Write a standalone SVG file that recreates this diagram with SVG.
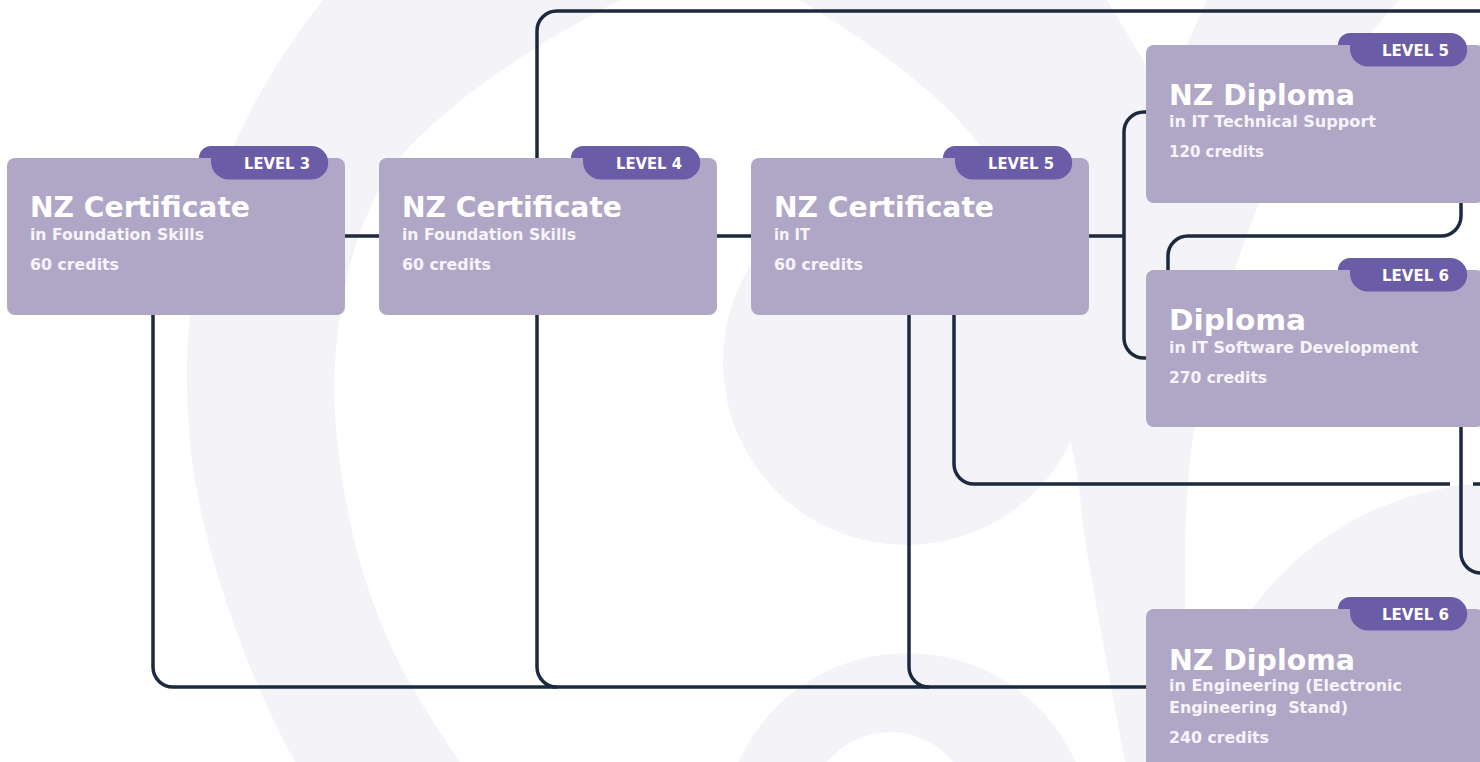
<svg xmlns="http://www.w3.org/2000/svg" width="1480" height="762" viewBox="0 0 1480 762">
  <style>
    .bg { fill: #f3f3f8; }
    .card { fill: #b0a7c7; }
    .tab { fill: #6b5ca8; }
    .conn { fill: none; stroke: #1b2a3e; stroke-width: 3.5; stroke-linecap: butt; }
    .lvl { font-family: "DejaVu Sans", "Liberation Sans", sans-serif; font-weight: 700; font-size: 16px; fill: #ffffff; text-anchor: end; }
    .title { font-family: "DejaVu Sans", "Liberation Sans", sans-serif; font-weight: 700; font-size: 28px; fill: #ffffff; }
    .sub { font-family: "DejaVu Sans", "Liberation Sans", sans-serif; font-weight: 700; font-size: 15px; fill: #f6f4fa; }
    .cred { font-family: "DejaVu Sans", "Liberation Sans", sans-serif; font-weight: 700; font-size: 15.5px; fill: #f6f4fa; }
  </style>
  <defs>
    <path id="tabShape" d="M192,0 A12 12 0 0 1 204,-12 H304.5 A16.75 16.75 0 0 1 304.5,21.5 H222 A18 18 0 0 1 204,3.5 V0 Z"/>
  </defs>

  <rect x="0" y="0" width="1480" height="762" fill="#ffffff"/>

  <g id="background">
    <path class="bg" d="M323,0 L621,0 C540,40 450,100 398,159 C370,200 350,250 343,300 C335,340 333,380 335,417 C345,540 375,620 410,683 C425,710 445,740 460,762 L295,762 C250,680 205,560 192,460 C185,400 186,340 192,300 C205,180 260,80 323,0 Z"/>
    <path class="bg" d="M799,0 C850,30 950,95 989,159 C1010,190 1025,220 1040,260 L1100,320 L1160,100 L1143,60 L1107,0 Z"/>
    <circle class="bg" cx="906" cy="362" r="183"/>
    <path class="bg" d="M1207,0 L1400,0 C1380,20 1340,70 1300,120 C1270,165 1240,250 1215,330 C1195,400 1188,460 1185,540 L1185,640 C1187,700 1190,740 1192,762 L1125,762 C1110,680 1095,600 1085,540 C1080,500 1079,475 1070,440 L1040,300 L1143,100 L1180,60 Z"/>
    <path class="bg" fill-rule="evenodd" d="M722,838 A185 185 0 1 1 1092,838 A185 185 0 1 1 722,838 Z M809,813 A81 81 0 1 0 971,813 A81 81 0 1 0 809,813 Z"/>
    <circle class="bg" cx="1500" cy="790" r="307"/>
  </g>

  <g id="connectors">
    <path class="conn" d="M345,236 H379"/>
    <path class="conn" d="M717,236 H751"/>
    <path class="conn" d="M1089,236 H1124"/>
    <path class="conn" d="M1146,112 H1144 A20 20 0 0 0 1124,132 V338 A20 20 0 0 0 1144,358 H1146"/>
    <path class="conn" d="M1461,203 V216 A20 20 0 0 1 1441,236 H1188 A20 20 0 0 0 1168,256 V270"/>
    <path class="conn" d="M537,158 V31 A20 20 0 0 1 557,11 H1480"/>
    <path class="conn" d="M153,315 V667 A20 20 0 0 0 173,687 H1146"/>
    <path class="conn" d="M537,315 V667 A20 20 0 0 0 557,687"/>
    <path class="conn" d="M909,315 V667 A20 20 0 0 0 929,687"/>
    <path class="conn" d="M954,315 V464 A20 20 0 0 0 974,484 H1450"/>
    <path class="conn" d="M1473,484 H1480"/>
    <path class="conn" d="M1461,427 V553 A20 20 0 0 0 1481,573 H1490"/>
  </g>

  <g id="node-l3-foundation" transform="translate(7,158)">
    <rect class="card" x="0" y="0" width="338" height="157" rx="8"/>
    <use href="#tabShape" class="tab"/>
    <text class="lvl" x="303" y="10.5" textLength="66" lengthAdjust="spacingAndGlyphs">LEVEL 3</text>
    <text class="title" x="23" y="59" textLength="220" lengthAdjust="spacingAndGlyphs">NZ Certificate</text>
    <text class="sub" x="23" y="82" textLength="174" lengthAdjust="spacingAndGlyphs">in Foundation Skills</text>
    <text class="cred" x="23" y="112" textLength="89" lengthAdjust="spacingAndGlyphs">60 credits</text>
  </g>

  <g id="node-l4-foundation" transform="translate(379,158)">
    <rect class="card" x="0" y="0" width="338" height="157" rx="8"/>
    <use href="#tabShape" class="tab"/>
    <text class="lvl" x="303" y="10.5" textLength="66" lengthAdjust="spacingAndGlyphs">LEVEL 4</text>
    <text class="title" x="23" y="59" textLength="220" lengthAdjust="spacingAndGlyphs">NZ Certificate</text>
    <text class="sub" x="23" y="82" textLength="174" lengthAdjust="spacingAndGlyphs">in Foundation Skills</text>
    <text class="cred" x="23" y="112" textLength="89" lengthAdjust="spacingAndGlyphs">60 credits</text>
  </g>

  <g id="node-l5-it" transform="translate(751,158)">
    <rect class="card" x="0" y="0" width="338" height="157" rx="8"/>
    <use href="#tabShape" class="tab"/>
    <text class="lvl" x="303" y="10.5" textLength="66" lengthAdjust="spacingAndGlyphs">LEVEL 5</text>
    <text class="title" x="23" y="59" textLength="220" lengthAdjust="spacingAndGlyphs">NZ Certificate</text>
    <text class="sub" x="23" y="82" textLength="36" lengthAdjust="spacingAndGlyphs">in IT</text>
    <text class="cred" x="23" y="112" textLength="89" lengthAdjust="spacingAndGlyphs">60 credits</text>
  </g>

  <g id="node-l5-tech-support" transform="translate(1146,45)">
    <rect class="card" x="0" y="0" width="338" height="158" rx="8"/>
    <use href="#tabShape" class="tab"/>
    <text class="lvl" x="303" y="10.5" textLength="67" lengthAdjust="spacingAndGlyphs">LEVEL 5</text>
    <text class="title" x="23" y="60" textLength="186" lengthAdjust="spacingAndGlyphs">NZ Diploma</text>
    <text class="sub" x="23" y="82" textLength="207" lengthAdjust="spacingAndGlyphs">in IT Technical Support</text>
    <text class="cred" x="23" y="112" textLength="95" lengthAdjust="spacingAndGlyphs">120 credits</text>
  </g>

  <g id="node-l6-software" transform="translate(1146,270)">
    <rect class="card" x="0" y="0" width="338" height="157" rx="8"/>
    <use href="#tabShape" class="tab"/>
    <text class="lvl" x="303" y="10.5" textLength="67" lengthAdjust="spacingAndGlyphs">LEVEL 6</text>
    <text class="title" x="23" y="60" textLength="137" lengthAdjust="spacingAndGlyphs">Diploma</text>
    <text class="sub" x="23" y="83" textLength="249" lengthAdjust="spacingAndGlyphs">in IT Software Development</text>
    <text class="cred" x="23" y="113" textLength="98" lengthAdjust="spacingAndGlyphs">270 credits</text>
  </g>

  <g id="node-l6-engineering" transform="translate(1146,609)">
    <rect class="card" x="0" y="0" width="338" height="160" rx="8"/>
    <use href="#tabShape" class="tab"/>
    <text class="lvl" x="303" y="10.5" textLength="67" lengthAdjust="spacingAndGlyphs">LEVEL 6</text>
    <text class="title" x="23" y="61" textLength="186" lengthAdjust="spacingAndGlyphs">NZ Diploma</text>
    <text class="sub" x="23" y="82" textLength="233" lengthAdjust="spacingAndGlyphs">in Engineering (Electronic</text>
    <text class="sub" x="23" y="104" textLength="179" lengthAdjust="spacingAndGlyphs" xml:space="preserve">Engineering  Stand)</text>
    <text class="cred" x="23" y="134" textLength="100" lengthAdjust="spacingAndGlyphs">240 credits</text>
  </g>
</svg>
